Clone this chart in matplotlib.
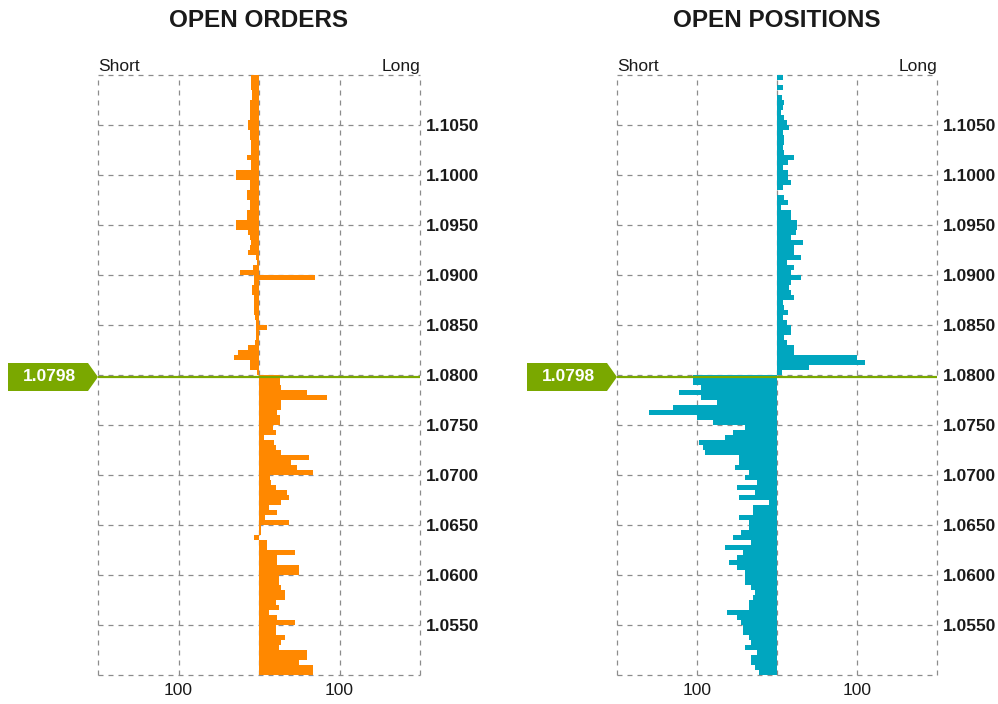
import numpy as np
import matplotlib
matplotlib.use("Agg")
import matplotlib.pyplot as plt
from matplotlib.patches import Polygon
from matplotlib.transforms import IdentityTransform

plt.rcParams['font.family'] = ['Liberation Sans', 'DejaVu Sans']

# ---------------- data ----------------
TOP_PRICE = 1.1100
STEP = 0.0005
N_LEVELS = 120
# lower edge of each price bucket, listed from the top of the chart downwards
price_levels = np.round(TOP_PRICE - STEP * (np.arange(N_LEVELS) + 1), 5)

current_price = 1.0798

orders_short = [
    9.5, 9.5, 9.5, 8.7, 8.7, 11.6, 11.6, 10.7, 10.7, 13.6,
    13.6, 11.6, 11.6, 9.5, 9.5, 9.5, 14.4, 9.5, 9.5, 29,
    29, 11.6, 11.6, 14.4, 14.4, 11.6, 11.6, 14.4, 14.4, 29,
    29, 13.6, 11.6, 9.5, 11.6, 13.6, 3.3, 2, 7.4, 24,
    6.2, 6.2, 8.7, 8.7, 6.6, 6.6, 6.6, 6.6, 5.3, 3.3,
    3.3, 4.1, 4.1, 5.3, 13.6, 26, 31.4, 11.6, 11.6, 3,
    0, 0, 0, 0, 0, 0, 0, 0, 0, 0,
    0, 0, 0, 0, 0, 0, 0, 0, 0, 0,
    0, 0, 0, 0, 0, 0, 0, 0, 0, 0,
    0, 0, 6.6, 0, 0, 0, 0, 0, 0, 0,
    0, 0, 0, 0, 0, 0, 0, 0, 0, 0,
    0, 0, 0, 0, 0, 0, 0, 0, 0, 0,
]

orders_long = [
    0, 0, 0, 0, 0, 0, 0, 0, 0, 0,
    0, 0, 0, 0, 0, 0, 0, 0, 0, 0,
    0, 0, 0, 0, 0, 0, 0, 0, 0, 0,
    0, 0, 0, 0, 0, 0, 0, 0, 0, 0,
    69, 0, 0, 0, 0, 0, 0, 0, 0, 0,
    10.4, 0, 0, 0, 0, 0, 0, 0, 0, 0,
    25.7, 25.7, 27.8, 59.6, 85, 27.8, 27.8, 22.8, 25.7, 25.7,
    18, 20.7, 5.8, 18.3, 20.7, 27.8, 62, 40, 47.6, 67,
    13.3, 15.4, 20.7, 34.8, 37.3, 27.8, 12.4, 22.8, 7.5, 37.3,
    3, 2, 0, 10.4, 10.4, 45, 22.8, 22.8, 49.7, 49.7,
    24.8, 24.8, 27.8, 32.8, 32.8, 20.7, 24.8, 12.4, 22.8, 45,
    20.7, 20.7, 32.8, 27.8, 24.8, 59.6, 59.6, 49.7, 67, 67,
]

positions_long = [
    8, 0, 8, 0, 6.7, 9.2, 7, 5, 9, 12.5,
    15, 7, 9, 9, 7, 9, 21.7, 14, 8, 14,
    14, 17.5, 7, 0, 9.2, 14, 5, 17.5, 17.5, 25,
    25, 24, 17, 32, 21.7, 21.7, 30, 12.5, 21.7, 17.5,
    30, 17.5, 15.5, 17.5, 21.7, 7, 9.2, 14, 7, 12.5,
    17.5, 17.5, 9, 12.5, 21.7, 21.7, 100, 110, 40, 6.7,
    0, 0, 0, 0, 0, 0, 0, 0, 0, 0,
    0, 0, 0, 0, 0, 0, 0, 0, 0, 0,
    0, 0, 0, 0, 0, 0, 0, 0, 0, 0,
    0, 0, 0, 0, 0, 0, 0, 0, 0, 0,
    0, 0, 0, 0, 0, 0, 0, 0, 0, 0,
    0, 0, 0, 0, 0, 0, 0, 0, 0, 0,
]

positions_short = [
    0, 0, 0, 0, 0, 0, 0, 0, 0, 0,
    0, 0, 0, 0, 0, 0, 0, 0, 0, 0,
    0, 0, 0, 0, 0, 0, 0, 0, 0, 0,
    0, 0, 0, 0, 0, 0, 0, 0, 0, 0,
    0, 0, 0, 0, 0, 0, 0, 0, 0, 0,
    0, 0, 0, 0, 0, 0, 0, 0, 0, 0,
    104.6, 104.6, 95, 122, 95, 75, 130, 160, 100, 80,
    40, 55, 65, 97.5, 92.5, 90, 47.5, 47.5, 52.5, 35,
    40, 25, 50, 27.5, 47.5, 10, 30, 30, 47.5, 35,
    35, 45, 55, 33, 64.6, 43, 49.6, 60, 49.6, 40,
    40, 40, 32.5, 27.5, 30, 35, 35, 62.5, 50, 45,
    42.5, 42.5, 35, 33, 40, 25, 32.5, 32.5, 27.5, 22.5,
]

panel_titles = ["OPEN ORDERS", "OPEN POSITIONS"]
x_ticks = [-200, -100, 0, 100, 200]
x_tick_labels = ["", "100", "", "100", ""]
y_ticks = np.round(np.arange(1.0500, 1.11001, 0.005), 4)
y_tick_labels = ["" if (t <= 1.0500 or t >= 1.1100) else f"{t:.4f}" for t in y_ticks]

ORANGE = "#FF8800"
TEAL = "#00A6BF"
GREEN = "#7AA800"
GRID = "#8C8C8C"
TEXT = "#1A1A1A"

# ---------------- figure ----------------
W, H = 998, 704
DPI = 100
fig = plt.figure(figsize=(W / DPI, H / DPI), dpi=DPI)
fig.patch.set_facecolor("white")

ax1 = fig.add_axes([98 / W, (H - 675) / H, 322 / W, 600 / H])
ax2 = fig.add_axes([617 / W, (H - 675) / H, 320 / W, 600 / H])

def style_axis(ax):
    ax.set_xlim(-200, 200)
    ax.set_ylim(1.0500, 1.1100)
    for s in ax.spines.values():
        s.set_visible(False)
    ax.set_xticks(x_ticks)
    ax.set_xticklabels(x_tick_labels, fontsize=12.5, color=TEXT)
    ax.set_yticks(y_ticks)
    ax.set_yticklabels(y_tick_labels, fontsize=12.5, fontweight="bold", color=TEXT)
    ax.yaxis.tick_right()
    ax.tick_params(axis="both", length=0)
    ax.tick_params(axis="y", pad=4)
    ax.tick_params(axis="x", pad=6)
    ax.grid(True, color=GRID, linestyle=(0, (4, 4)), linewidth=0.9)
    for gl in ax.get_xgridlines() + ax.get_ygridlines():
        gl.set_clip_on(False)
    ax.set_axisbelow(True)
    ax.axhline(current_price, color=GREEN, lw=1.6, zorder=4)

levels = price_levels
ax1.barh(levels, -np.asarray(orders_short), height=STEP, align="edge",
         color=ORANGE, linewidth=0, zorder=2)
ax1.barh(levels, np.asarray(orders_long), height=STEP, align="edge",
         color=ORANGE, linewidth=0, zorder=2)
ax2.barh(levels, np.asarray(positions_long), height=STEP, align="edge",
         color=TEAL, linewidth=0, zorder=2)
ax2.barh(levels, -np.asarray(positions_short), height=STEP, align="edge",
         color=TEAL, linewidth=0, zorder=2)

for ax, title in zip((ax1, ax2), panel_titles):
    style_axis(ax)
    ax.text(0.5, 1.0 + 55 / 600, title, transform=ax.transAxes, ha="center",
            va="center", fontsize=17.5, fontweight="bold", color=TEXT)
    ax.text(0.0, 1.0 + 4 / 600, "Short", transform=ax.transAxes, ha="left",
            va="baseline", fontsize=12.5, color=TEXT)
    ax.text(1.0, 1.0 + 4 / 600, "Long", transform=ax.transAxes, ha="right",
            va="baseline", fontsize=12.5, color=TEXT)

# current-price markers
for ax in (ax1, ax2):
    ax_x, ax_y = ax.get_yaxis_transform().transform((0, current_price))
    verts = np.array([(-90, -14), (-10, -14), (0, 0), (-10, 14), (-90, 14)], float)
    verts[:, 0] += ax_x
    verts[:, 1] += ax_y
    poly = Polygon(verts, closed=True, facecolor=GREEN, edgecolor="none",
                   transform=IdentityTransform(), clip_on=False, zorder=5)
    fig.patches.append(poly)
    fig.text(ax_x - 49, ax_y, f"{current_price:.4f}", transform=IdentityTransform(),
             ha="center", va="center", fontsize=12.5, fontweight="bold",
             color="white", zorder=6)

fig.savefig("out.png", dpi=DPI)
